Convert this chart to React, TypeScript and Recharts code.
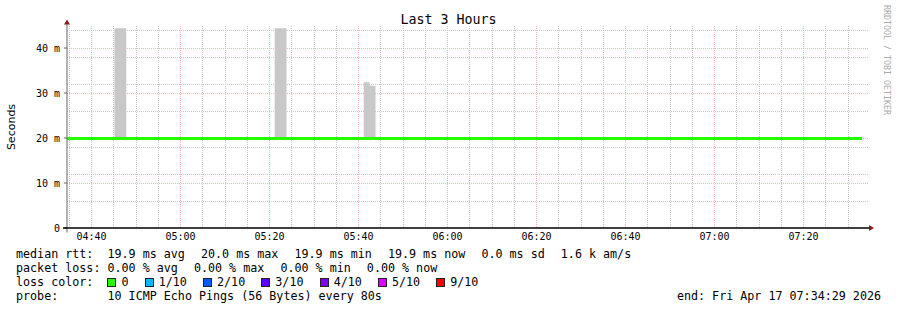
import {
  ComposedChart,
  Area,
  Line,
  XAxis,
  YAxis,
  CartesianGrid,
  ReferenceDot,
} from 'recharts'

const mono = '"DejaVu Sans Mono", monospace'

// time window of the graph (3 hours ending at endClock)
const startClock = '04:34:29'
const endLabel = 'end: Fri Apr 17 07:34:29 2026'
const timeLabels = ['04:40', '05:00', '05:20', '05:40', '06:00', '06:20', '06:40', '07:00', '07:20']
const yTicks = [0, 10, 20, 30, 40]

// median rtt (ms), minutes from start
const medianT = [0, 178.67]
const medianMs = [19.9, 19.9]

// smoke (grey) spikes: minutes from start, low/high ms
const smokeStart = [10.67, 46.67, 66.67, 68.0]
const smokeEnd = [13.33, 49.33, 68.0, 69.33]
const smokeLow = [19.9, 19.9, 19.9, 19.9]
const smokeHigh = [44.4, 44.4, 32.4, 31.6]

const rttItems = ['19.9 ms avg', '20.0 ms max', '19.9 ms min', '19.9 ms now', '0.0 ms sd', '1.6 k am/s']
const lossItems = ['0.00 % avg', '0.00 % max', '0.00 % min', '0.00 % now']
const probeText = '10 ICMP Echo Pings (56 Bytes) every 80s'
const lossLabels = ['0', '1/10', '2/10', '3/10', '4/10', '5/10', '9/10']
const lossColors = ['#26ff00', '#00b8ff', '#0059ff', '#5e00ff', '#7e00ff', '#dd00ff', '#ff0000']

function clockToMin(s: string) {
  const [h, m, sec = '0'] = s.split(':')
  return +h * 60 + +m + +sec / 60
}

const t0 = clockToMin(startClock)
const majorX = timeLabels.map(l => clockToMin(l) - t0)
const minorX: number[] = []
for (let m = clockToMin('04:35'); m < t0 + 180; m += 5) {
  const v = m - t0
  if (!majorX.some(x => Math.abs(x - v) < 0.01)) minorX.push(v)
}
const majorY = [10, 20, 30, 40]
const minorY: number[] = []
for (let v = 2; v <= 44; v += 2) if (v % 10 !== 0) minorY.push(v)

type Row = { t: number; smoke?: [number, number] | null; med?: number }
const rows: Row[] = []
rows.push({ t: medianT[0], med: medianMs[0] })
smokeStart.forEach((s, i) => {
  const range: [number, number] = [smokeLow[i], smokeHigh[i]]
  rows.push({ t: s, smoke: range })
  if (smokeStart[i + 1] !== smokeEnd[i]) {
    rows.push({ t: smokeEnd[i], smoke: range })
    rows.push({ t: smokeEnd[i], smoke: null })
  }
})
rows.push({ t: medianT[1], med: medianMs[1] })

const UpArrow = (p: any) => (
  <g>
    <line x1={p.cx} y1={p.cy + 207} x2={p.cx} y2={p.cy - 3} stroke="#666" strokeWidth={1} />
    <polygon points={`${p.cx - 3},${p.cy - 1} ${p.cx + 3},${p.cy - 1} ${p.cx},${p.cy - 6}`} fill="#8b1a1a" />
  </g>
)
const RightArrow = (p: any) => (
  <g>
    <line x1={p.cx - 805} y1={p.cy} x2={p.cx + 2} y2={p.cy} stroke="#000" strokeWidth={1.5} />
    <polygon points={`${p.cx + 1},${p.cy - 3} ${p.cx + 1},${p.cy + 3} ${p.cx + 6},${p.cy}`} fill="#8b1a1a" />
  </g>
)

const rowStyle: React.CSSProperties = {
  position: 'absolute',
  left: 16,
  fontFamily: mono,
  fontSize: 11.7,
  lineHeight: '14px',
  whiteSpace: 'pre',
  color: '#000',
}
const gap = { marginRight: 2 }

function Items({ label, items }: { label: string; items: string[] }) {
  return (
    <>
      {label}
      {items.map((it, i) => (
        <span key={i} style={i < items.length - 1 ? gap : undefined}>
          {it + (i < items.length - 1 ? '  ' : '')}
        </span>
      ))}
    </>
  )
}

export default function App() {
  return (
    <div style={{ position: 'absolute', left: 0, top: 0, width: 897, height: 310, background: '#fff', overflow: 'hidden' }}>
      <div style={{ position: 'absolute', top: 11, left: 0, width: 897, textAlign: 'center', fontFamily: mono, fontSize: 13.3, lineHeight: '18px' }}>
        Last 3 Hours
      </div>
      <div style={{ position: 'absolute', left: 11, top: 127, transform: 'translate(-50%, -50%) rotate(-90deg)', fontFamily: '"DejaVu Sans", sans-serif', fontSize: 11, whiteSpace: 'nowrap' }}>
        Seconds
      </div>
      <div style={{ position: 'absolute', left: 887, top: 60, transform: 'translate(-50%, -50%) rotate(90deg)', fontFamily: mono, fontSize: 8.3, color: '#aaa', whiteSpace: 'nowrap' }}>
        RRDTOOL / TOBI OETIKER
      </div>
      <ComposedChart width={897} height={310} data={rows} margin={{ top: 25.5, right: 29, bottom: 62, left: 7 }}>
        <CartesianGrid stroke="#c8c8c8" strokeDasharray="1 1" shapeRendering="crispEdges" horizontalValues={minorY} verticalValues={minorX} />
        <CartesianGrid stroke="#f5b3b3" strokeDasharray="1 1" shapeRendering="crispEdges" horizontalValues={majorY} verticalValues={majorX} />
        <XAxis
          dataKey="t"
          type="number"
          domain={[0, 180]}
          ticks={majorX}
          tickFormatter={(v: number) => timeLabels[majorX.findIndex(x => Math.abs(x - v) < 0.01)] ?? ''}
          tick={{ fill: '#000', stroke: 'none', fontSize: 10, fontFamily: mono }}
          tickLine={false}
          tickSize={0}
          tickMargin={5}
          axisLine={false}
          height={20}
          allowDataOverflow
        />
        <YAxis
          type="number"
          domain={[0, 45]}
          ticks={yTicks}
          tickFormatter={(v: number) => (v === 0 ? '0' : `${v} m`)}
          tick={{ fill: '#000', stroke: 'none', fontSize: 10, fontFamily: mono }}
          tickLine={{ stroke: '#666' }}
          tickSize={3}
          tickMargin={4}
          axisLine={false}
          width={60}
          allowDataOverflow
        />
        <Area
          dataKey="smoke"
          type="stepAfter"
          stroke="none"
          fill="#c8c8c8"
          fillOpacity={1}
          isAnimationActive={false}
          connectNulls={false}
          dot={false}
          activeDot={false}
        />
        <Line
          dataKey="med"
          type="linear"
          stroke="#26ff00"
          strokeWidth={3}
          dot={false}
          activeDot={false}
          connectNulls
          isAnimationActive={false}
        />
        <ReferenceDot x={0} y={45} r={0} ifOverflow="visible" shape={UpArrow} />
        <ReferenceDot x={180} y={0} r={0} ifOverflow="visible" shape={RightArrow} />
      </ComposedChart>
      <div style={{ ...rowStyle, top: 247 }}>
        <Items label="median rtt:  " items={rttItems} />
      </div>
      <div style={{ ...rowStyle, top: 261 }}>
        <Items label="packet loss: " items={lossItems} />
      </div>
      <div style={{ ...rowStyle, top: 275 }}>
        {'loss color:  '}
        {lossLabels.map((l, i) => (
          <span key={l} style={i < lossLabels.length - 1 ? gap : undefined}>
            <span style={{ display: 'inline-block', width: '2ch' }}>
              <span
                style={{
                  display: 'inline-block',
                  width: 7,
                  height: 7,
                  background: lossColors[i],
                  border: '1px solid #222',
                  verticalAlign: '-1px',
                }}
              />
            </span>
            {l + (i < lossLabels.length - 1 ? '  ' : '')}
          </span>
        ))}
      </div>
      <div style={{ ...rowStyle, top: 289 }}>
        <Items label="probe:       " items={[probeText]} />
      </div>
      <div style={{ ...rowStyle, top: 289, left: 'auto', right: 16 }}>{endLabel}</div>
    </div>
  )
}
